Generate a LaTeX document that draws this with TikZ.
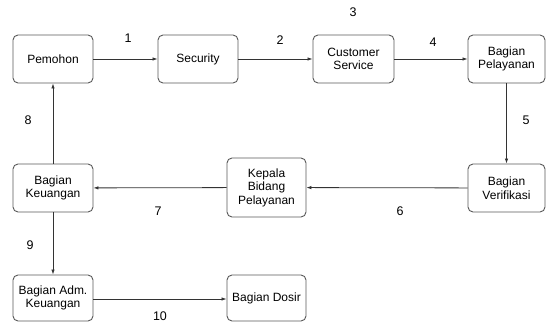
\documentclass[tikz,border=0pt]{standalone}
\usepackage{fontspec}
\setmainfont{Liberation Sans}
\usetikzlibrary{arrows.meta}
\begin{document}
\begin{tikzpicture}[x=1pt,y=-1pt,
  box/.style={draw=black!65, line width=0.9pt, rounded corners=5pt, fill=white,
    minimum width=80pt, align=center, font=\fontsize{12}{13.5}\selectfont, inner sep=1pt},
  conn/.style={draw=black!80, line width=0.8pt, -{Latex[length=5pt,width=3.5pt]}},
  lbl/.style={font=\fontsize{12.5}{14}\selectfont}]
\useasboundingbox (0,0) rectangle (546,323);
\node[box, minimum height=48pt] (pem) at (53,59) {Pemohon};
\node[box, minimum height=48pt] (sec) at (198,59) {Security};
\node[box, minimum height=48pt, minimum width=81pt] (cs) at (353.5,59) {Customer\\Service};
\node[box, minimum height=48pt, minimum width=77pt] (pel) at (506.5,59) {Bagian\\Pelayanan};
\node[box, minimum height=48pt, minimum width=77pt] (ver) at (506.5,188) {Bagian\\Verifikasi};
\node[box, minimum height=59pt, minimum width=79pt] (kep) at (266.5,187.5) {Kepala\\Bidang\\Pelayanan};
\node[box, minimum height=48pt] (keu) at (53,188) {Bagian\\Keuangan};
\node[box, minimum height=46pt] (adm) at (53,298) {Bagian Adm.\\Keuangan};
\node[box, minimum height=46pt, minimum width=79pt] (dos) at (266.5,298) {Bagian Dosir};
\draw[conn] (pem) -- (sec);
\draw[conn] (sec) -- (cs);
\draw[conn] (cs) -- (pel);
\draw[conn] (pel) -- (ver);
\draw[conn] (ver) -- (kep);
\draw[conn] (kep) -- (keu);
\draw[conn] (keu) -- (pem);
\draw[conn] (keu) -- (adm);
\draw[conn] (adm.east |- 0,299) -- (dos.west |- 0,299);
\node[lbl] (l1) at (128,38) {1};
\node[lbl] (l2) at (280,40) {2};
\node[lbl] (l3) at (353,12) {3};
\node[lbl] (l4) at (433,42) {4};
\node[lbl] (l5) at (526,120) {5};
\node[lbl] (l6) at (400,211) {6};
\node[lbl] (l7) at (158,211) {7};
\node[lbl] (l8) at (28,120) {8};
\node[lbl] (l9) at (30,245) {9};
\node[lbl] (l10) at (160,316) {10};
\end{tikzpicture}
\end{document}
